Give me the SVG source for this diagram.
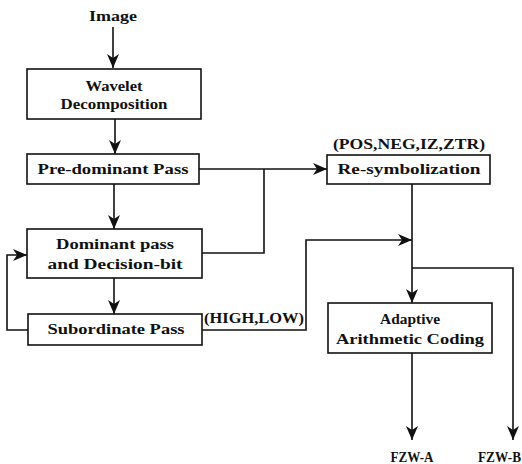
<svg xmlns="http://www.w3.org/2000/svg" width="522" height="464" viewBox="0 0 522 464">
<defs>
<style>
.box{fill:#fff;stroke:#111;stroke-width:1.6}
.t{font-family:"Liberation Serif","DejaVu Serif",serif;font-weight:bold;font-size:14px;fill:#111;text-anchor:middle}
.c{fill:none;stroke:#111;stroke-width:1.6}
</style>
<marker id="ah" viewBox="0 0 14 12" refX="14" refY="6" markerWidth="14" markerHeight="12" markerUnits="userSpaceOnUse" orient="auto">
<path d="M0,0 L14,6 L0,12 L4,6 z" fill="#111"/>
</marker>
</defs>
<rect width="522" height="464" fill="#fff"/>
<g id="connectors">
<line class="c" x1="113" y1="27" x2="113" y2="68" marker-end="url(#ah)"/>
<line class="c" x1="115" y1="119" x2="115" y2="154" marker-end="url(#ah)"/>
<line class="c" x1="114" y1="184" x2="114" y2="229" marker-end="url(#ah)"/>
<line class="c" x1="114" y1="278" x2="114" y2="314" marker-end="url(#ah)"/>
<polyline class="c" points="28,330 7,330 7,255 27,255" marker-end="url(#ah)"/>
<line class="c" x1="199" y1="169" x2="327" y2="169" marker-end="url(#ah)"/>
<polyline class="c" points="264,169 264,253 202,253"/>
<polyline class="c" points="202,330 306,330 306,240 412,240" marker-end="url(#ah)"/>
<line class="c" x1="412" y1="184" x2="412" y2="303" marker-end="url(#ah)"/>
<polyline class="c" points="412,268 513,268 513,440" marker-end="url(#ah)"/>
<line class="c" x1="412" y1="353" x2="412" y2="440" marker-end="url(#ah)"/>
</g>
<g id="image">
<text class="t" x="113" y="21" textLength="48" lengthAdjust="spacingAndGlyphs">Image</text>
</g>
<g id="wavelet">
<rect class="box" x="27" y="69" width="174" height="50"/>
<text class="t" x="114" y="91" textLength="57" lengthAdjust="spacingAndGlyphs">Wavelet</text>
<text class="t" x="114" y="109" textLength="107" lengthAdjust="spacingAndGlyphs">Decomposition</text>
</g>
<g id="predominant">
<rect class="box" x="27" y="154" width="172" height="30"/>
<text class="t" x="113" y="174" textLength="151" lengthAdjust="spacingAndGlyphs">Pre-dominant Pass</text>
</g>
<g id="dominant">
<rect class="box" x="27" y="229" width="175" height="49"/>
<text class="t" x="115" y="249" textLength="118" lengthAdjust="spacingAndGlyphs">Dominant pass</text>
<text class="t" x="115" y="269" textLength="135" lengthAdjust="spacingAndGlyphs">and Decision-bit</text>
</g>
<g id="subordinate">
<rect class="box" x="28" y="314" width="174" height="31"/>
<text class="t" x="116" y="334" textLength="137" lengthAdjust="spacingAndGlyphs">Subordinate Pass</text>
</g>
<g id="highlow">
<text class="t" x="254" y="323" textLength="100" lengthAdjust="spacingAndGlyphs">(HIGH,LOW)</text>
</g>
<g id="resymbolization">
<text class="t" x="409" y="149" textLength="152" lengthAdjust="spacingAndGlyphs">(POS,NEG,IZ,ZTR)</text>
<rect class="box" x="327" y="155" width="163" height="29"/>
<text class="t" x="409" y="174" textLength="143" lengthAdjust="spacingAndGlyphs">Re-symbolization</text>
</g>
<g id="adaptive">
<rect class="box" x="328" y="303" width="164" height="50"/>
<text class="t" x="410" y="324" textLength="60" lengthAdjust="spacingAndGlyphs">Adaptive</text>
<text class="t" x="410" y="344" textLength="148" lengthAdjust="spacingAndGlyphs">Arithmetic Coding</text>
</g>
<g id="fzwa">
<text class="t" x="412" y="462" textLength="43" lengthAdjust="spacingAndGlyphs">FZW-A</text>
</g>
<g id="fzwb">
<text class="t" x="478" y="462" style="text-anchor:start" textLength="43" lengthAdjust="spacingAndGlyphs">FZW-B</text>
</g>
</svg>
